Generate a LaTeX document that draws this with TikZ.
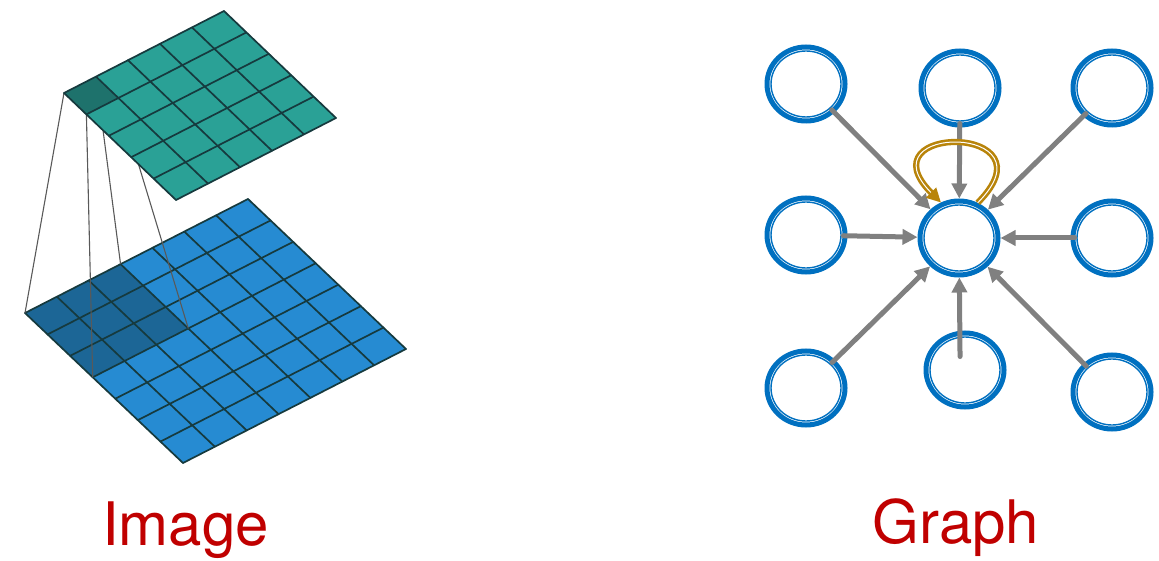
\documentclass[tikz,border=0pt]{standalone}
\usepackage{fontspec}
\usepackage{tikz}
\usetikzlibrary{arrows.meta, shapes.geometric, calc}
\newfontfamily\labelfont{TeX Gyre Heros}
\definecolor{tealplane}{RGB}{42,161,150}
\definecolor{tealdark}{RGB}{30,114,108}
\definecolor{blueplane}{RGB}{38,139,210}
\definecolor{bluedark}{RGB}{28,102,150}
\definecolor{gridline}{RGB}{22,58,62}
\definecolor{ringblue}{RGB}{0,112,192}
\definecolor{loopgold}{RGB}{184,132,10}
\definecolor{labelred}{RGB}{192,0,0}

\begin{document}
\begin{tikzpicture}[x=1pt, y=1pt,
    lowerplane/.style={cm={31.857,16.286,22.571,-21.429,(25,-313)}},
    upperplane/.style={cm={32,16.4,22.4,-21.4,(64,-93)}},
    planegrid/.style={draw=gridline, line width=1.7pt, line cap=round},
    field/.style={draw=black!65, line width=1.1pt},
    ring/.style={ellipse, draw=ringblue, line width=5pt, fill=white,
        minimum width=78pt, minimum height=74pt, inner sep=0pt,
        path picture={\draw[ringblue, line width=1.4pt]
            (path picture bounding box.center) ellipse [x radius=35, y radius=33];}},
    feed/.style={draw=gray, line width=5pt, line cap=round,
        -{Triangle[length=15pt,width=15pt]}, shorten <=-4pt},
    selfloop/.style={draw=loopgold, line width=2.6pt, double=white, double distance=1pt,
        -{Triangle[length=14pt,width=14pt]}},
    lbl/.style={text=labelred, font=\labelfont\fontsize{60}{70}\selectfont,
        anchor=base, inner sep=0pt}]

    \useasboundingbox (0,0) rectangle (1159,-561);

    % Image: input plane
    \begin{scope}[lowerplane]
        \fill[blueplane] (0,0) -- (7,0) -- (7,7) -- (0,7) -- cycle;
        \fill[bluedark] (0,0) -- (3,0) -- (3,3) -- (0,3) -- cycle;
        \foreach \k in {0,...,7} {
            \draw[planegrid] (\k,0) -- (\k,7);
            \draw[planegrid] (0,\k) -- (7,\k);
        }
        \coordinate (f00) at (0,0);
        \coordinate (f10) at (3,0);
        \coordinate (f01) at (0,3);
        \coordinate (f11) at (3,3);
    \end{scope}

    % receptive field
    \begin{scope}[upperplane]
        \coordinate (u00) at (0,0);
        \coordinate (u10) at (1,0);
        \coordinate (u01) at (0,1);
        \coordinate (u11) at (1,1);
    \end{scope}
    \foreach \a in {00,10,01,11}
        \draw[field] (u\a) -- (f\a);

    % Image: output plane
    \begin{scope}[upperplane]
        \fill[tealplane] (0,0) -- (5,0) -- (5,5) -- (0,5) -- cycle;
        \fill[tealdark] (0,0) -- (1,0) -- (1,1) -- (0,1) -- cycle;
        \foreach \k in {0,...,5} {
            \draw[planegrid] (\k,0) -- (\k,5);
            \draw[planegrid] (0,\k) -- (5,\k);
        }
    \end{scope}

    % Graph
    \node[ring] (nw) at (806,-84) {};
    \node[ring] (n)  at (960,-88) {};
    \node[ring] (ne) at (1112,-88) {};
    \node[ring] (w)  at (806,-235) {};
    \node[ring] (c)  at (959,-238) {};
    \node[ring] (e)  at (1112,-238) {};
    \node[ring] (sw) at (806,-388) {};
    \node[ring] (s)  at (965,-370) {};
    \node[ring] (se) at (1112,-392) {};

    \foreach \src in {nw,n,ne,w,e,sw,se}
        \draw[feed] (\src) -- (c);
    \draw[feed] ([shift={(-5,-22)}]s.north) -- (c);
    \draw[selfloop] (c.62) .. controls +(45:112) and +(135:112) .. (c.117);

    % labels
    \node[lbl] (imagelabel) at (185.5,-545) {Image};
    \node[lbl] (graphlabel) at (956,-543) {Graph};
\end{tikzpicture}
\end{document}
